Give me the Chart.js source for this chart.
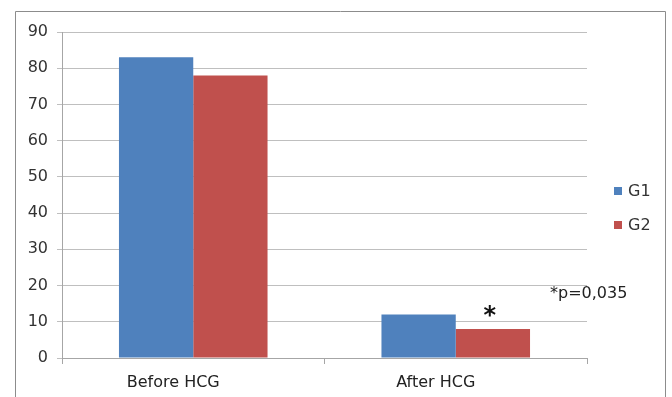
<!DOCTYPE html>
<html>
<head>
<meta charset="utf-8">
<script src="https://cdn.jsdelivr.net/npm/chart.js@4/dist/chart.umd.min.js"></script>
<style>
  html, body { margin: 0; padding: 0; background: #fff; }
  #wrap { width: 672px; height: 397px; position: relative; }
</style>
</head>
<body>
<div id="wrap"><canvas id="chart" width="672" height="397"></canvas></div>
<script>
// data
const categories = ["Before HCG", "After HCG"];
const seriesNames = ["G1", "G2"];
const g1Values = [83, 12];
const g2Values = [78, 8];
const yMin = 0, yMax = 90, yStep = 10;
const pNote = "*p=0,035";
const starMark = "*";

const FONT = "'DejaVu Sans', sans-serif";
const colors = ["#4f81bd", "#c0504d"];

// frame, legend and the p-value note
const extras = {
  id: "extras",
  beforeDraw(chart) {
    const ctx = chart.ctx;
    ctx.save();
    ctx.fillStyle = "#fff";
    ctx.fillRect(0, 0, chart.width, chart.height);
    ctx.strokeStyle = "#8c8c8c";
    ctx.lineWidth = 1;
    ctx.beginPath();
    ctx.moveTo(15.5, 400);
    ctx.lineTo(15.5, 11.5);
    ctx.lineTo(665.5, 11.5);
    ctx.lineTo(665.5, 400);
    ctx.stroke();
    ctx.restore();
  },
  afterDraw(chart) {
    const ctx = chart.ctx;
    ctx.save();
    ctx.font = "16px " + FONT;
    ctx.textBaseline = "middle";
    chart.data.datasets.forEach((ds, i) => {
      const y = 191 + i * 34;
      ctx.fillStyle = ds.backgroundColor;
      ctx.fillRect(614, y - 4, 8, 8);
      ctx.fillStyle = "#333";
      ctx.textAlign = "left";
      ctx.fillText(ds.label, 628, y + 1);
    });
    // star above G2 after HCG
    const bar = chart.getDatasetMeta(1).data[1];
    ctx.fillStyle = "#111";
    ctx.font = "bold 24px " + FONT;
    ctx.textAlign = "center";
    ctx.fillText(starMark, bar.x - 3, bar.y - 12);
    ctx.font = "16px " + FONT;
    ctx.textAlign = "left";
    ctx.fillStyle = "#222";
    ctx.fillText(pNote, 550, 294);
    ctx.restore();
  }
};

new Chart(document.getElementById("chart"), {
  type: "bar",
  data: {
    labels: categories,
    datasets: [
      { label: seriesNames[0], data: g1Values, backgroundColor: colors[0] },
      { label: seriesNames[1], data: g2Values, backgroundColor: colors[1] }
    ]
  },
  options: {
    responsive: false,
    animation: false,
    events: [],
    layout: { padding: { left: 0, right: 85, top: 32, bottom: 0 } },
    datasets: { bar: { categoryPercentage: 0.566, barPercentage: 1 } },
    plugins: { legend: { display: false }, tooltip: { enabled: false } },
    scales: {
      x: {
        grid: { offset: true, drawOnChartArea: false, tickLength: 6, color: "#a6a6a6" },
        border: { color: "#a6a6a6" },
        ticks: { color: "#222", font: { family: FONT, size: 16 }, padding: 9, labelOffset: -20 },
        afterFit(scale) { scale.height = 39; }
      },
      y: {
        min: yMin,
        max: yMax,
        ticks: { stepSize: yStep, color: "#333", font: { family: FONT, size: 16 }, padding: 9 },
        grid: { color: "#bfbfbf", tickLength: 5 },
        border: { color: "#a6a6a6" },
        afterFit(scale) { scale.width = 62; }
      }
    }
  },
  plugins: [extras]
});
</script>
</body>
</html>
